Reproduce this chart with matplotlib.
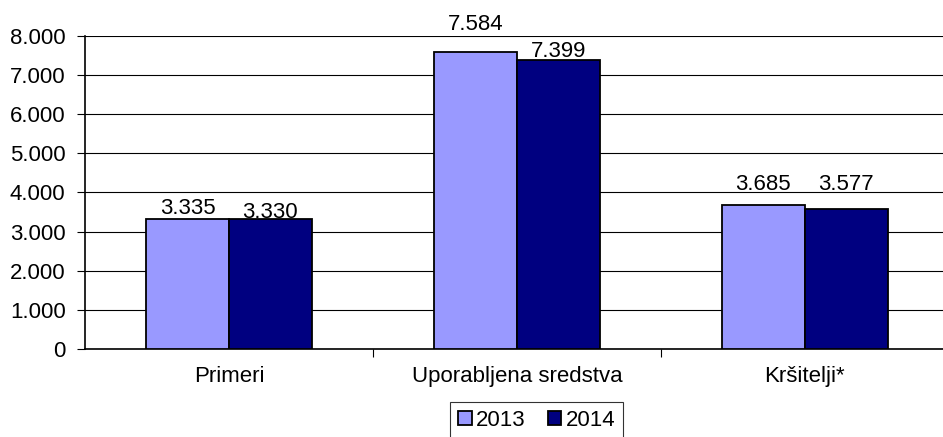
import numpy as np
import matplotlib
matplotlib.use("Agg")
import matplotlib.pyplot as plt
from matplotlib.ticker import FuncFormatter

categories = ["Primeri", "Uporabljena sredstva", "Kršitelji*"]
series_names = ["2013", "2014"]
values_2013 = [3335, 7584, 3685]
values_2014 = [3330, 7399, 3577]
colors = ["#9999FF", "#000080"]
# gap in pixels between bar top and label baseline (labels were nudged by hand)
label_gap_2013 = [5, 22, 15]
label_gap_2014 = [1, 3, 19]

plt.rcParams['font.family'] = ['Liberation Sans', 'DejaVu Sans']
plt.rcParams['font.size'] = 16

def fmt(v, pos=None):
    return f"{int(v):,}".replace(",", ".")

fig = plt.figure(figsize=(9.43, 4.37), dpi=100)
ax = fig.add_axes([0.0901, 0.2014, 0.916, 0.7162])

x = np.arange(len(categories))
w = 0.288
bars1 = ax.bar(x - w / 2, values_2013, w, color=colors[0], edgecolor="black",
               linewidth=1.3, label=series_names[0], zorder=3)
bars2 = ax.bar(x + w / 2, values_2014, w, color=colors[1], edgecolor="black",
               linewidth=1.3, label=series_names[1], zorder=3)

for bars, gaps in ((bars1, label_gap_2013), (bars2, label_gap_2014)):
    for b, g in zip(bars, gaps):
        ax.annotate(fmt(b.get_height()), (b.get_x() + b.get_width() / 2, b.get_height()),
                    xytext=(0, g), textcoords="offset pixels",
                    ha="center", va="baseline", fontsize=16)

ax.set_xlim(-0.5, 2.5)
ax.set_ylim(0, 8000)
ax.set_yticks(np.arange(0, 8001, 1000))
ax.yaxis.set_major_formatter(FuncFormatter(fmt))
ax.grid(axis="y", color="black", linewidth=0.8, zorder=0)

ax.set_xticks(x)
ax.set_xticklabels(categories)
ax.set_xticks([0.5, 1.5], minor=True)
ax.tick_params(axis="x", which="major", length=0, pad=12)
ax.tick_params(axis="x", which="minor", length=6, direction="out", width=0.8)
ax.tick_params(axis="y", length=6, direction="out", width=0.8, pad=8)

for s in ("top", "right"):
    ax.spines[s].set_visible(False)
ax.spines["left"].set_linewidth(1.2)
ax.spines["bottom"].set_linewidth(1.2)

leg = ax.legend(loc="upper center", bbox_to_anchor=(0.523, -0.169), ncol=2,
                borderaxespad=0, frameon=True, fancybox=False, edgecolor="black",
                handlelength=0.6, handleheight=0.6, handletextpad=0.2,
                columnspacing=1.0, borderpad=0.35, fontsize=16)
leg.get_frame().set_linewidth(0.8)

fig.savefig("out.png", dpi=100)
